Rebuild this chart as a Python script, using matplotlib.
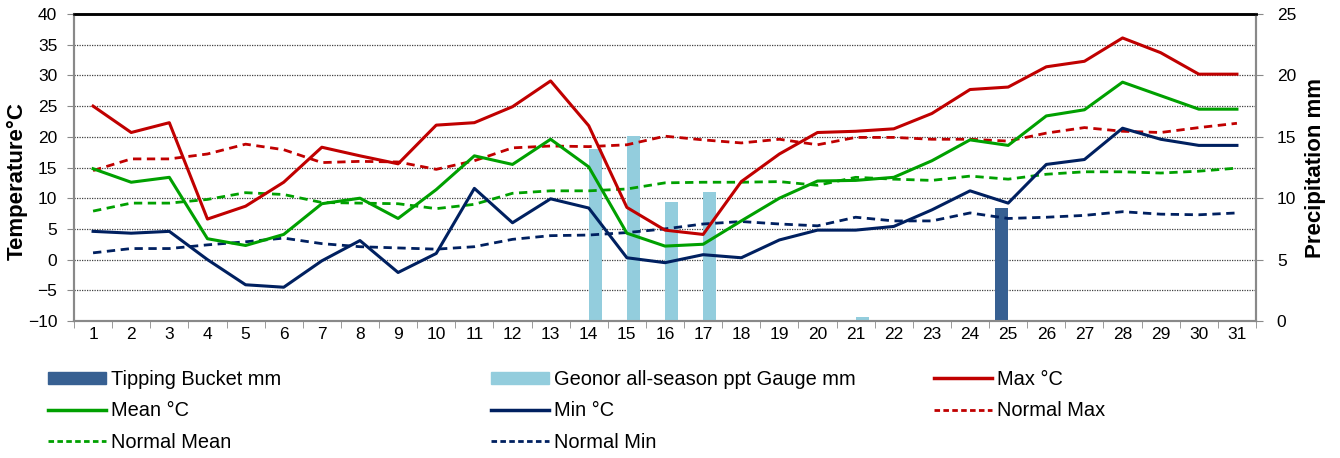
import matplotlib
matplotlib.use("Agg")
import matplotlib.pyplot as plt
import numpy as np
from matplotlib.lines import Line2D
from matplotlib.patches import Patch

plt.rcParams['font.family'] = ['Liberation Sans', 'DejaVu Sans']

days = list(range(1, 32))
max_t = [25.0, 20.7, 22.3, 6.6, 8.7, 12.6, 18.3, 16.9, 15.6, 21.9,
         22.3, 24.9, 29.1, 21.8, 8.5, 4.8, 4.1, 12.7, 17.2, 20.7,
         20.9, 21.3, 23.8, 27.7, 28.1, 31.4, 32.3, 36.1, 33.7, 30.2, 30.2]
mean_t = [14.8, 12.6, 13.4, 3.4, 2.3, 4.1, 9.1, 10.0, 6.7, 11.4,
          16.9, 15.5, 19.6, 15.1, 4.3, 2.2, 2.5, 6.3, 10.0, 12.8,
          12.9, 13.4, 16.1, 19.5, 18.6, 23.4, 24.4, 28.9, 26.7, 24.5, 24.5]
min_t = [4.6, 4.3, 4.6, 0.0, -4.1, -4.5, -0.2, 3.1, -2.1, 1.0,
         11.6, 6.0, 9.9, 8.4, 0.3, -0.5, 0.8, 0.3, 3.2, 4.8,
         4.8, 5.4, 8.1, 11.2, 9.2, 15.5, 16.3, 21.4, 19.6, 18.6, 18.6]
norm_max = [14.5, 16.4, 16.4, 17.2, 18.8, 17.9, 15.8, 16.0, 15.9, 14.7,
            16.1, 18.2, 18.5, 18.4, 18.7, 20.1, 19.5, 19.0, 19.6, 18.7,
            19.9, 19.9, 19.6, 19.6, 19.3, 20.6, 21.5, 20.9, 20.7, 21.5, 22.2]
norm_mean = [7.9, 9.2, 9.2, 9.8, 10.9, 10.6, 9.3, 9.2, 9.1, 8.3,
             9.0, 10.8, 11.2, 11.2, 11.5, 12.5, 12.6, 12.6, 12.7, 12.1,
             13.4, 13.1, 12.9, 13.6, 13.1, 13.9, 14.3, 14.3, 14.1, 14.4, 14.9]
norm_min = [1.1, 1.8, 1.8, 2.4, 2.9, 3.5, 2.6, 2.1, 1.9, 1.7,
            2.1, 3.3, 3.9, 4.0, 4.4, 5.0, 5.8, 6.2, 5.8, 5.5,
            6.9, 6.3, 6.3, 7.6, 6.7, 6.9, 7.2, 7.8, 7.4, 7.3, 7.6]
tipping = [0]*24 + [9.2] + [0]*6
geonor = [0]*13 + [14.0, 15.1, 9.7, 10.5, 0, 0.05, 0, 0.3, 0, 0, 0.05] + [0]*7

C_TB = '#376092'
C_GEO = '#93CDDD'
C_MAX = '#C00000'
C_MEAN = '#00A000'
C_MIN = '#002060'
GRAY = '#898989'

fig = plt.figure(figsize=(13.4, 4.58), dpi=100)
W, H = 1340, 458
left, right, top, bottom = 74, 1256, 14, 321
rect = [left / W, 1 - bottom / H, (right - left) / W, (bottom - top) / H]

axp = fig.add_axes(rect)
ax = fig.add_axes(rect)
ax.patch.set_visible(False)
ax.set_zorder(axp.get_zorder() + 1)

x = np.array(days)
bw = 0.35
axp.bar(x - bw / 2, tipping, width=bw, color=C_TB, zorder=3)
axp.bar(x + bw / 2, geonor, width=bw, color=C_GEO, zorder=3)
axp.set_ylim(0, 25)
axp.set_yticks(np.arange(0, 26, 5))
axp.set_yticks(np.arange(2.5, 25, 2.5), minor=True)
axp.yaxis.tick_right()
axp.yaxis.set_label_position('right')
axp.grid(True, axis='y', which='both', linestyle=(0, (1, 1)), color='#404040', lw=0.9)
axp.set_axisbelow(True)
axp.set_ylabel('Precipitation mm', fontsize=16, fontweight='bold', labelpad=6)
axp.tick_params(axis='y', which='major', labelsize=12.5, direction='out', length=5, color=GRAY, pad=10)
axp.tick_params(axis='y', which='minor', length=0)
axp.set_xlim(0.5, 31.5)
axp.set_xticks([])

ax.plot(x, norm_max, color=C_MAX, lw=2.0, ls=(0, (3, 2)))
ax.plot(x, norm_mean, color=C_MEAN, lw=2.0, ls=(0, (3, 2)))
ax.plot(x, norm_min, color=C_MIN, lw=2.0, ls=(0, (3, 2)))
ax.plot(x, max_t, color=C_MAX, lw=2.2)
ax.plot(x, mean_t, color=C_MEAN, lw=2.2)
ax.plot(x, min_t, color=C_MIN, lw=2.2)
ax.set_ylim(-10, 40)
ax.set_yticks(np.arange(-10, 41, 5))
ax.set_xlim(0.5, 31.5)
ax.set_xticks(x)
ax.set_xticklabels([str(d) for d in days])
ax.set_xticks(np.arange(0.5, 32, 1), minor=True)
ax.tick_params(axis='x', which='major', length=0, labelsize=12.5, pad=4)
ax.tick_params(axis='x', which='minor', length=5, color=GRAY, direction='out')
ax.tick_params(axis='y', labelsize=12.5, direction='out', length=5, color=GRAY, pad=7)
ax.set_ylabel('Temperature°C', fontsize=16, fontweight='bold')
ax.yaxis.set_label_coords(-0.039, 0.456)

for a in (ax, axp):
    for s in ('left', 'right', 'bottom'):
        a.spines[s].set_color(GRAY)
        a.spines[s].set_linewidth(1.5)
    a.spines['top'].set_color('black')
    a.spines['top'].set_linewidth(1.8)

h_tb = Patch(color=C_TB)
h_geo = Patch(color=C_GEO)
h_max = Line2D([], [], color=C_MAX, lw=2.5)
h_mean = Line2D([], [], color=C_MEAN, lw=2.5)
h_min = Line2D([], [], color=C_MIN, lw=2.5)
h_nmax = Line2D([], [], color=C_MAX, lw=2.0, ls=(0, (2, 1.2)))
h_nmean = Line2D([], [], color=C_MEAN, lw=2.0, ls=(0, (2, 1.2)))
h_nmin = Line2D([], [], color=C_MIN, lw=2.0, ls=(0, (2, 1.2)))

cols = [
    ([h_tb, h_mean, h_nmean], ['Tipping Bucket mm', 'Mean °C', 'Normal Mean'], 48),
    ([h_geo, h_min, h_nmin], ['Geonor all-season ppt Gauge mm', 'Min °C', 'Normal Min'], 491),
    ([h_max, h_nmax], ['Max °C', 'Normal Max'], 934),
]
for hs, ls_, xpx in cols:
    fig.legend(hs, ls_, loc='upper left', bbox_to_anchor=(xpx / W, 1 - 370 / H),
               frameon=False, fontsize=14.4, handlelength=2.9, handleheight=0.6,
               handletextpad=0.25, labelspacing=0.62, borderaxespad=0, borderpad=0)

fig.savefig('out.png', dpi=100)
